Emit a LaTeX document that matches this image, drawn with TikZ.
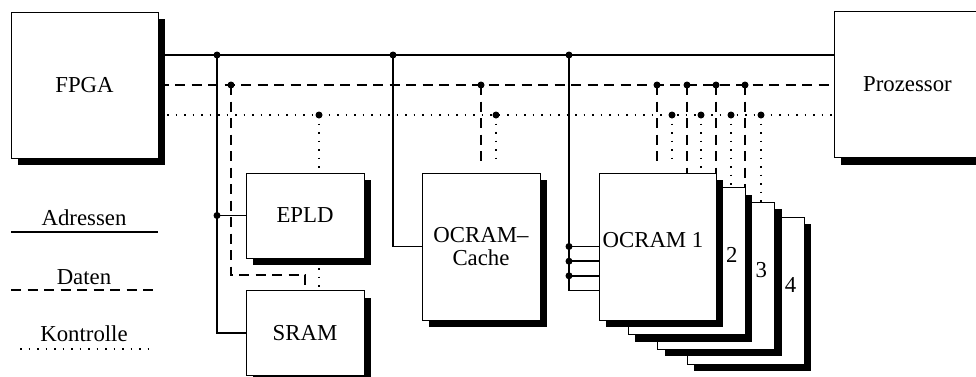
\documentclass[tikz,border=0pt]{standalone}
\usepackage{fontspec}
\setmainfont{Liberation Serif}
\usetikzlibrary{shadows,calc}
\pgfdeclarelayer{bg}
\pgfsetlayers{bg,main}
\begin{document}
\begin{tikzpicture}[x=0.5pt,y=-0.5pt,
  every node/.style={font=\fontsize{11.4}{11.6}\selectfont},
  box/.style={draw, line width=0.5pt, fill=white, inner sep=0pt,
    drop shadow={opacity=1, fill=black, shadow xshift=3.5pt, shadow yshift=-3.5pt}},
  adr/.style={line width=0.75pt},
  dat/.style={line width=0.75pt, dash pattern=on 5pt off 3.25pt},
  ctl/.style={line width=0.75pt, dash pattern=on 0.75pt off 3.5pt},
  drop/.style={shorten >=4pt},
  stacklabel/.style={anchor=center, xshift=-7pt, yshift=3pt}
]
\useasboundingbox (0,0) rectangle (976,376);

% ---- boxes
\node[box, minimum width=73.5pt, minimum height=73pt] (FPGA) at (84.5,85) {FPGA};
\node[box, minimum width=73.5pt, minimum height=73pt] (Proz) at (907.5,84.5) {Prozessor};
\node[box, minimum width=59pt, minimum height=42.5pt] (EPLD) at (305,215.5) {EPLD};
\node[box, minimum width=59pt, minimum height=42.5pt] (SRAM) at (305,333) {SRAM};
\node[box, minimum width=59pt, minimum height=73.5pt, align=center] (Cache) at (481,246.5) {OCRAM–\\Cache};

\node[box, minimum width=58.5pt, minimum height=73.5pt, label={[stacklabel]east:4}] (OC4) at (745.5,290.5) {};
\node[box, minimum width=58.5pt, minimum height=73.5pt, label={[stacklabel]east:3}] (OC3) at (716.2,275.8) {};
\node[box, minimum width=58.5pt, minimum height=73.5pt, label={[stacklabel]east:2}] (OC2) at (686.8,261.2) {};
\node[box, minimum width=58.5pt, minimum height=73.5pt] (OC1) at (657.5,246.5) {};
\node (OC1t) at (653,240) {OCRAM 1};

% ---- junctions
\coordinate (a1) at (217,55);
\coordinate (a2) at (393,55);
\coordinate (a3) at (569,55);
\coordinate (d1) at (231,85);
\coordinate (d2) at (481,85);
\coordinate (d3) at (657,85);
\coordinate (d4) at (687,85);
\coordinate (d5) at (716,85);
\coordinate (d6) at (745,85);
\coordinate (c1) at (319,115);
\coordinate (c2) at (496,115);
\coordinate (c3) at (672,115);
\coordinate (c4) at (701,115);
\coordinate (c5) at (731,115);
\coordinate (c6) at (761,115);
\coordinate (a4) at (a1 |- EPLD.west);
\coordinate (oi0) at ($(OC1.west)+(0,0)$);
\coordinate (oi1) at ($(OC1.west)+(0,14.7)$);
\coordinate (oi2) at ($(OC1.west)+(0,29.3)$);
\coordinate (oi3) at ($(OC1.west)+(0,44)$);

\begin{pgfonlayer}{bg}
% buses
\draw[adr] (FPGA.east |- a1) -- (Proz.west |- a1);
\draw[dat] (FPGA.east |- d1) -- (Proz.west |- d1);
\draw[ctl] (FPGA.east |- c1) -- (Proz.west |- c1);
% address drops
\draw[adr] (a1) |- (SRAM.west);
\draw[adr] (a4) -- (EPLD.west);
\draw[adr] (a2) |- (Cache.west);
\draw[adr] (a3) |- (oi3);
\draw[adr] (a3 |- oi0) -- (oi0);
\draw[adr] (a3 |- oi1) -- (oi1);
\draw[adr] (a3 |- oi2) -- (oi2);
% data drops
\draw[dat] (d1) |- ($(SRAM.north)+(0,-15)$) -- (SRAM.north);
\draw[dat,drop] (d2) -- (d2 |- Cache.north);
\draw[dat,drop] (d3) -- (d3 |- OC1.north);
\draw[dat,drop] (d4) -- (d4 |- OC2.north);
\draw[dat,drop] (d5) -- (d5 |- OC3.north);
\draw[dat,drop] (d6) -- (d6 |- OC4.north);
% control drops
\draw[ctl] (c1) -- (c1 |- SRAM.north);
\draw[ctl,drop] (c2) -- (c2 |- Cache.north);
\draw[ctl,drop] (c3) -- (c3 |- OC1.north);
\draw[ctl,drop] (c4) -- (c4 |- OC2.north);
\draw[ctl,drop] (c5) -- (c5 |- OC3.north);
\draw[ctl,drop] (c6) -- (c6 |- OC4.north);
\end{pgfonlayer}

% junction dots
\foreach \j in {a1,a2,a3,a4,d1,d2,d3,d4,d5,d6,c1,c2,c3,c4,c5,c6}
  \fill (\j) circle (1.75pt);
\fill (a3 |- oi0) circle (1.75pt);
\fill (a3 |- oi1) circle (1.75pt);
\fill (a3 |- oi2) circle (1.75pt);

% ---- legend
\node (lgA) at (84,218) {Adressen};
\coordinate (lgA1) at (11,232);
\coordinate (lgA2) at (158,232);
\draw[adr] (lgA1) -- (lgA2);
\node (lgD) at (84,277) {Daten};
\coordinate (lgD1) at (11,290);
\coordinate (lgD2) at (158,290);
\draw[dat] (lgD1) -- (lgD2);
\node (lgK) at (84,334) {Kontrolle};
\coordinate (lgK1) at (20,349);
\coordinate (lgK2) at (152,349);
\draw[ctl] (lgK1) -- (lgK2);
\end{tikzpicture}
\end{document}
